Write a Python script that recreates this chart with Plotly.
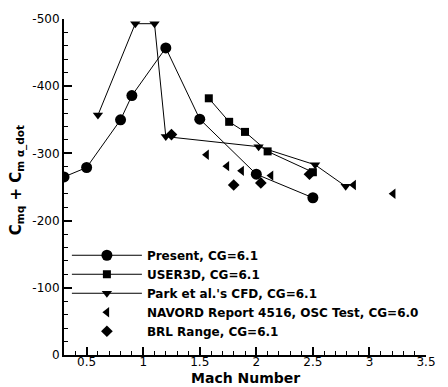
import plotly.graph_objects as go

# Pitch-damping coefficient vs Mach number
mach_present = [0.3, 0.5, 0.8, 0.9, 1.2, 1.5, 2.0, 2.5]
cm_present = [-265, -279, -350, -386, -457, -351, -269, -234]

mach_user3d = [1.58, 1.76, 1.9, 2.1, 2.5]
cm_user3d = [-382, -347, -332, -303, -272]

mach_park = [0.6, 0.93, 1.1, 1.2, 2.02, 2.52, 2.79]
cm_park = [-357, -493, -493, -325, -310, -283, -251]

mach_navord = [1.56, 1.74, 1.87, 2.13, 2.86, 3.21]
cm_navord = [-298, -281, -274, -267, -253, -240]

mach_brl = [1.25, 1.80, 2.04, 2.47]
cm_brl = [-328, -253, -256, -269]

y_ticks = [0, -100, -200, -300, -400, -500]
y_tick_text = ["0", "-100", "-200", "-300", "-400", "-500"]

BLACK = "black"
line_style = dict(color=BLACK, width=1)

fig = go.Figure()
fig.add_trace(go.Scatter(x=mach_present, y=cm_present, mode="lines+markers",
                         name="Present, CG=6.1", line=line_style,
                         marker=dict(symbol="circle", size=11, color=BLACK)))
fig.add_trace(go.Scatter(x=mach_user3d, y=cm_user3d, mode="lines+markers",
                         name="USER3D, CG=6.1", line=line_style,
                         marker=dict(symbol="square", size=8, color=BLACK)))
fig.add_trace(go.Scatter(x=mach_park, y=cm_park, mode="lines+markers",
                         name="Park et al.'s CFD, CG=6.1", line=line_style,
                         marker=dict(symbol="triangle-down", size=9, color=BLACK)))
fig.add_trace(go.Scatter(x=mach_navord, y=cm_navord, mode="markers",
                         name="NAVORD Report 4516, OSC Test, CG=6.0",
                         marker=dict(symbol="triangle-left", size=9, color=BLACK)))
fig.add_trace(go.Scatter(x=mach_brl, y=cm_brl, mode="markers",
                         name="BRL Range, CG=6.1",
                         marker=dict(symbol="diamond", size=9, color=BLACK)))

tick_font = dict(family="DejaVu Sans", size=12, color=BLACK)

fig.update_layout(
    width=448, height=387,
    margin=dict(l=64, r=12, t=16, b=32),
    paper_bgcolor="white", plot_bgcolor="white",
    showlegend=True,
    legend=dict(x=0.008, y=0.34, xanchor="left", yanchor="top",
                bgcolor="rgba(0,0,0,0)", borderwidth=0,
                font=dict(family="DejaVu Sans", size=12, color=BLACK),
                itemwidth=70, tracegroupgap=0),
    xaxis=dict(range=[0.3, 3.5], showgrid=False, zeroline=False,
               showline=True, linecolor=BLACK, linewidth=2,
               tickmode="linear", tick0=0.5, dtick=0.5,
               ticks="inside", ticklen=8, tickwidth=1.5, tickcolor=BLACK,
               ticklabelstandoff=-5,
               minor=dict(tickmode="linear", tick0=0.3, dtick=0.1,
                          ticks="inside", ticklen=4, tickwidth=1, tickcolor=BLACK),
               tickfont=tick_font, mirror=False),
    yaxis=dict(range=[0, -500], showgrid=False, zeroline=False,
               showline=True, linecolor=BLACK, linewidth=2,
               tickmode="array", tickvals=y_ticks, ticktext=y_tick_text,
               ticks="inside", ticklen=8, tickwidth=1.5, tickcolor=BLACK,
               minor=dict(tickmode="linear", tick0=0, dtick=20,
                          ticks="inside", ticklen=4, tickwidth=1, tickcolor=BLACK),
               tickfont=tick_font, mirror=False),
    annotations=[
        dict(text="<b>Mach Number</b>", xref="paper", yref="paper",
             x=0.5, y=-0.069, xanchor="center", yanchor="middle",
             showarrow=False,
             font=dict(family="DejaVu Sans", size=14, color=BLACK)),
        dict(text="<b>C<sub>mq</sub> + C<sub>m α_dot</sub></b>",
             xref="paper", yref="paper", x=-0.13, y=0.52,
             xanchor="center", yanchor="middle", textangle=-90,
             showarrow=False,
             font=dict(family="DejaVu Sans", size=15, color=BLACK)),
    ],
)

# legend entries in bold
for tr in fig.data:
    tr.name = "<b>" + tr.name + "</b>"

fig.write_html("out.html")
